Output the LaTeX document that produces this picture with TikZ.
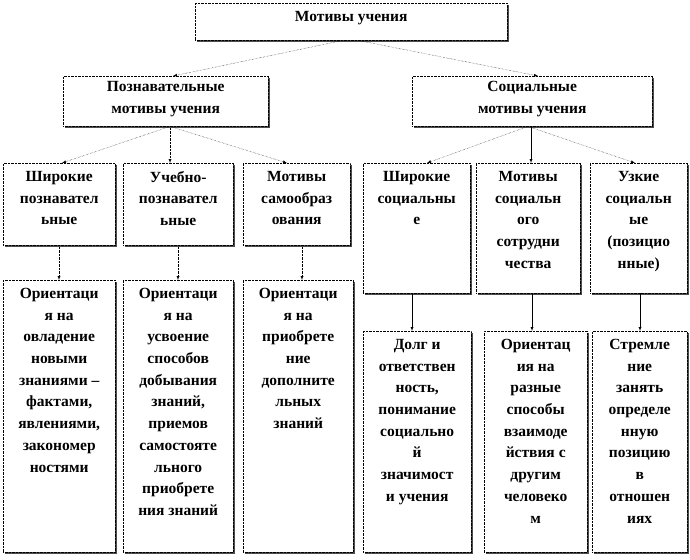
\documentclass[tikz,border=0pt]{standalone}
\usepackage{fontspec}
\setmainfont{Liberation Serif}
\usetikzlibrary{shadows}
\tikzset{
  box/.style={draw, densely dotted, fill=white, anchor=north west, inner sep=0pt,
    drop shadow={shadow xshift=1.5pt, shadow yshift=-1.5pt, fill=black!70, opacity=1}},
  txt/.style={anchor=north, align=center, inner sep=0pt,
    font=\fontsize{15.5}{21.7}\selectfont\bfseries},
  dotarr/.style={densely dotted, -latex},
  solarr/.style={-latex}
}
\newcommand{\boxat}[5]{% name, x, y, w, h
  \node[box, minimum width=#4pt, minimum height=#5pt] (#1) at (#2,#3) {};}
\begin{document}
\begin{tikzpicture}[x=1pt,y=1pt,yscale=-1]
\useasboundingbox (0,0) rectangle (690,559);

% boxes
\boxat{top}{195}{3}{312}{37}
\boxat{pozn}{63}{76}{205}{50}
\boxat{soc}{412}{76}{240}{50}
\boxat{pa}{3}{163}{112}{82}
\boxat{pb}{123}{163}{110}{82}
\boxat{pc}{243}{163}{107}{82}
\boxat{sa}{363}{163}{107}{130}
\boxat{sb}{476}{163}{104}{130}
\boxat{sc}{590}{163}{97}{130}
\boxat{pa2}{3}{280}{112}{272}
\boxat{pb2}{123}{280}{110}{272}
\boxat{pc2}{243}{280}{110}{272}
\boxat{sa2}{363}{331}{108}{221}
\boxat{sb2}{484}{331}{103}{221}
\boxat{sc2}{592}{331}{95}{221}

% texts
\node[txt] at ([yshift=8pt]top.north) {Мотивы учения};
\node[txt] at ([yshift=5pt]pozn.north) {Познавательные\\мотивы учения};
\node[txt] at ([yshift=5pt]soc.north) {Социальные\\мотивы учения};
\node[txt] at ([yshift=8pt]pa.north) {Широкие\\познавател\\ьные};
\node[txt] at ([yshift=8pt]pb.north) {Учебно-\\познавател\\ьные};
\node[txt] at ([yshift=8pt]pc.north) {Мотивы\\самообраз\\ования};
\node[txt] at ([yshift=8pt]sa.north) {Широкие\\социальны\\е};
\node[txt] at ([yshift=8pt]sb.north) {Мотивы\\социальн\\ого\\сотрудни\\чества};
\node[txt] at ([yshift=8pt]sc.north) {Узкие\\социальн\\ые\\(позицио\\нные)};
\node[txt] at ([yshift=8pt]pa2.north) {Ориентаци\\я на\\овладение\\новыми\\знаниями –\\фактами,\\явлениями,\\закономер\\ностями};
\node[txt] at ([yshift=8pt]pb2.north) {Ориентаци\\я на\\усвоение\\способов\\добывания\\знаний,\\приемов\\самостояте\\льного\\приобрете\\ния знаний};
\node[txt] at ([yshift=8pt]pc2.north) {Ориентаци\\я на\\приобрете\\ние\\дополните\\льных\\знаний};
\node[txt] at ([yshift=8pt]sa2.north) {Долг и\\ответствен\\ность,\\понимание\\социально\\й\\значимост\\и учения};
\node[txt] at ([yshift=8pt]sb2.north) {Ориентац\\ия на\\разные\\способы\\взаимоде\\йствия с\\другим\\человеко\\м};
\node[txt] at ([yshift=8pt]sc2.north) {Стремле\\ние\\занять\\определе\\нную\\позицию\\в\\отношен\\иях};

% connectors
\draw[dotarr] (top.south -| 343,0) -- (pozn.north -| 173,0);
\draw[dotarr] (top.south -| 358,0) -- (soc.north -| 538,0);
\draw[dotarr] (pozn.south -| 170,0) -- (pa.north -| 62,0);
\draw[dotarr] (pozn.south -| 170,0) -- (pb.north -| 170,0);
\draw[dotarr] (pozn.south -| 170,0) -- (pc.north -| 287,0);
\draw[dotarr] (soc.south -| 528,0) -- (sa.north -| 427,0);
\draw[solarr] (soc.south -| 531,0) -- (sb.north -| 531,0);
\draw[dotarr] (soc.south -| 528,0) -- (sc.north -| 635,0);
\draw[dotarr] (pa.south -| 59,0) -- (pa2.north -| 59,0);
\draw[dotarr] (pb.south -| 178,0) -- (pb2.north -| 178,0);
\draw[dotarr] (pc.south -| 302,0) -- (pc2.north -| 302,0);
\draw[solarr] (sa.south -| 412,0) -- (sa2.north -| 412,0);
\draw[solarr] (sb.south -| 532,0) -- (sb2.north -| 532,0);
\draw[solarr] (sc.south -| 640,0) -- (sc2.north -| 640,0);
\end{tikzpicture}
\end{document}
